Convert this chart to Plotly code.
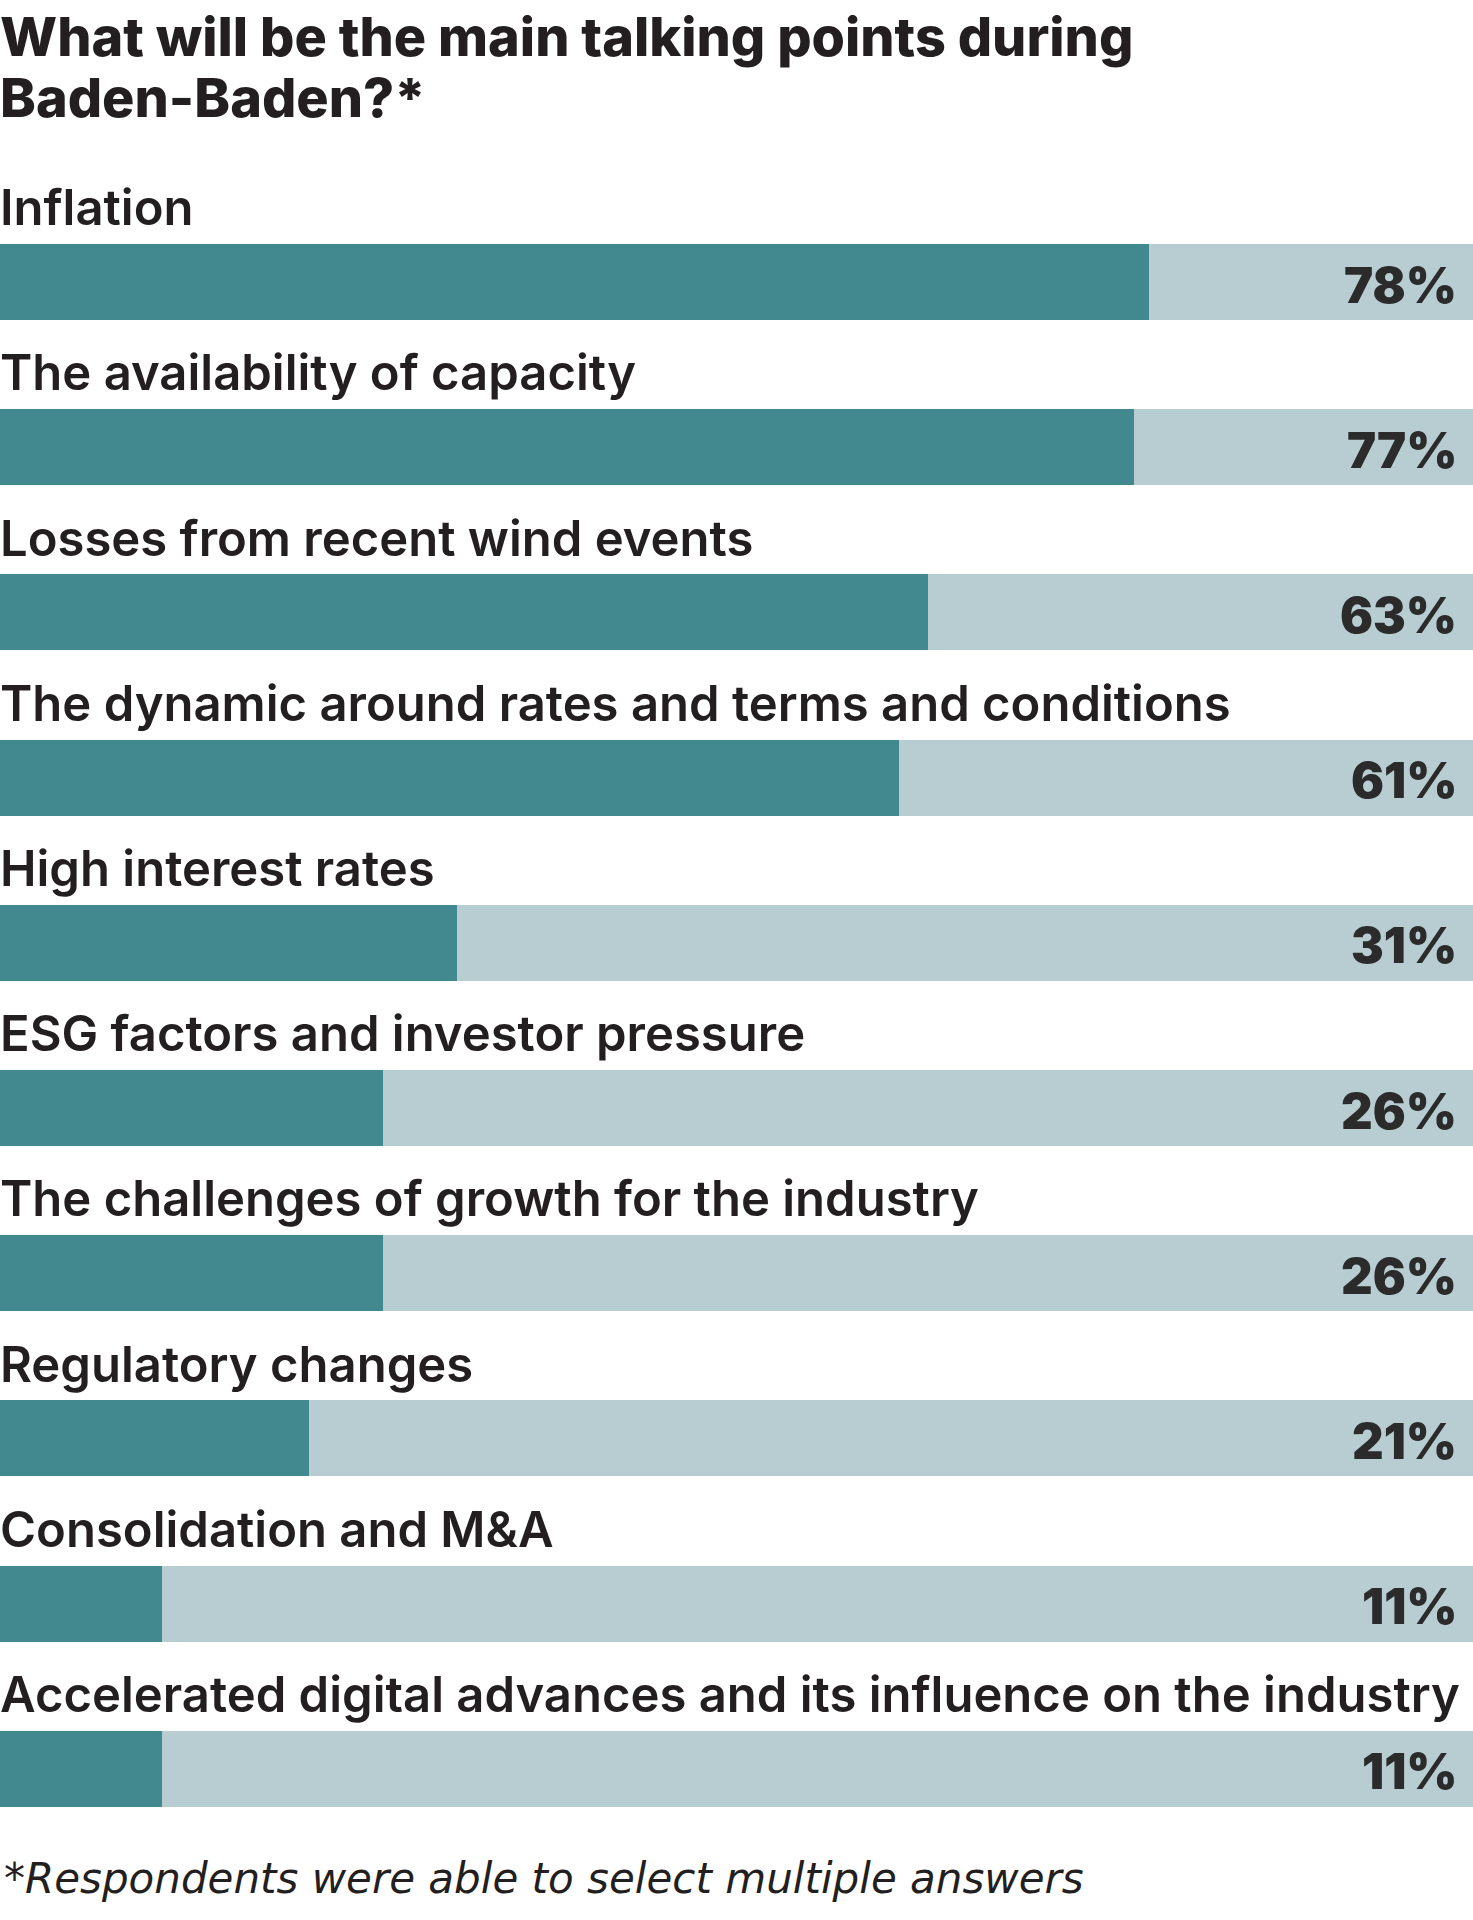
import plotly.graph_objects as go

categories = [
    "Inflation",
    "The availability of capacity",
    "Losses from recent wind events",
    "The dynamic around rates and terms and conditions",
    "High interest rates",
    "ESG factors and investor pressure",
    "The challenges of growth for the industry",
    "Regulatory changes",
    "Consolidation and M&A",
    "Accelerated digital advances and its influence on the industry",
]
values = [78, 77, 63, 61, 31, 26, 26, 21, 11, 11]
totals = [100] * len(categories)
value_labels = [f"{v}%" for v in values]

title_lines = ["What will be the main talking points during", "Baden-Baden?*"]
footnote = "*Respondents were able to select multiple answers"

W, H = 1473, 1920
TEAL = "#42888f"
LIGHT = "#b8cdd1"
DARK = "#231f20"
LABEL_FONT = "Inter"
FOOT_FONT = "DejaVu Sans"
NUM_FONT = "Inter"

idx = list(range(len(categories)))

fig = go.Figure()
fig.add_trace(go.Bar(
    y=idx, x=totals, orientation="h", marker=dict(color=LIGHT, line=dict(width=0)),
    width=0.46, hoverinfo="skip", showlegend=False,
))
fig.add_trace(go.Bar(
    y=idx, x=values, orientation="h", marker=dict(color=TEAL, line=dict(width=0)),
    width=0.46, hoverinfo="skip", showlegend=False,
))

annotations = []
for i, (cat, lab) in enumerate(zip(categories, value_labels)):
    annotations.append(dict(
        x=0, xref="paper", y=i - 0.45, yref="y", text=cat, showarrow=False,
        xanchor="left", yanchor="middle", xshift=-2,
        font=dict(family=LABEL_FONT, size=49, color=DARK, weight=600),
    ))
    annotations.append(dict(
        x=100, xref="x", y=i, yref="y", text=lab, showarrow=False,
        xanchor="right", yanchor="middle", xshift=-14, yshift=-3,
        font=dict(family=NUM_FONT, size=49, color="#2b2b2b", weight=900),
    ))

def py(p):
    return 1 - p / H

annotations.append(dict(
    x=0, xref="paper", y=py(36), yref="paper", text=title_lines[0], showarrow=False,
    xanchor="left", yanchor="middle", xshift=-2,
    font=dict(family=LABEL_FONT, size=54, color=DARK, weight=800),
))
annotations.append(dict(
    x=0, xref="paper", y=py(97), yref="paper", text=title_lines[1], showarrow=False,
    xanchor="left", yanchor="middle", xshift=-2,
    font=dict(family=LABEL_FONT, size=54, color=DARK, weight=800),
))
annotations.append(dict(
    x=0, xref="paper", y=py(1878), yref="paper", text=footnote, showarrow=False,
    xanchor="left", yanchor="middle", xshift=2,
    font=dict(family=FOOT_FONT, size=42, color=DARK, weight=300, style="italic"),
))

spacing = 165.2
r0 = -282 / spacing
r1 = r0 + H / spacing

fig.update_layout(
    width=W, height=H,
    margin=dict(l=0, r=0, t=0, b=0),
    paper_bgcolor="white", plot_bgcolor="white",
    barmode="overlay", bargap=0,
    xaxis=dict(range=[0, 100], visible=False, fixedrange=True),
    yaxis=dict(range=[r1, r0], visible=False, fixedrange=True),
    annotations=annotations,
)

fig.write_html(
    "out.html",
    config={"displayModeBar": False},
    post_script="document.body.style.margin='0';document.body.style.overflow='hidden';",
)
